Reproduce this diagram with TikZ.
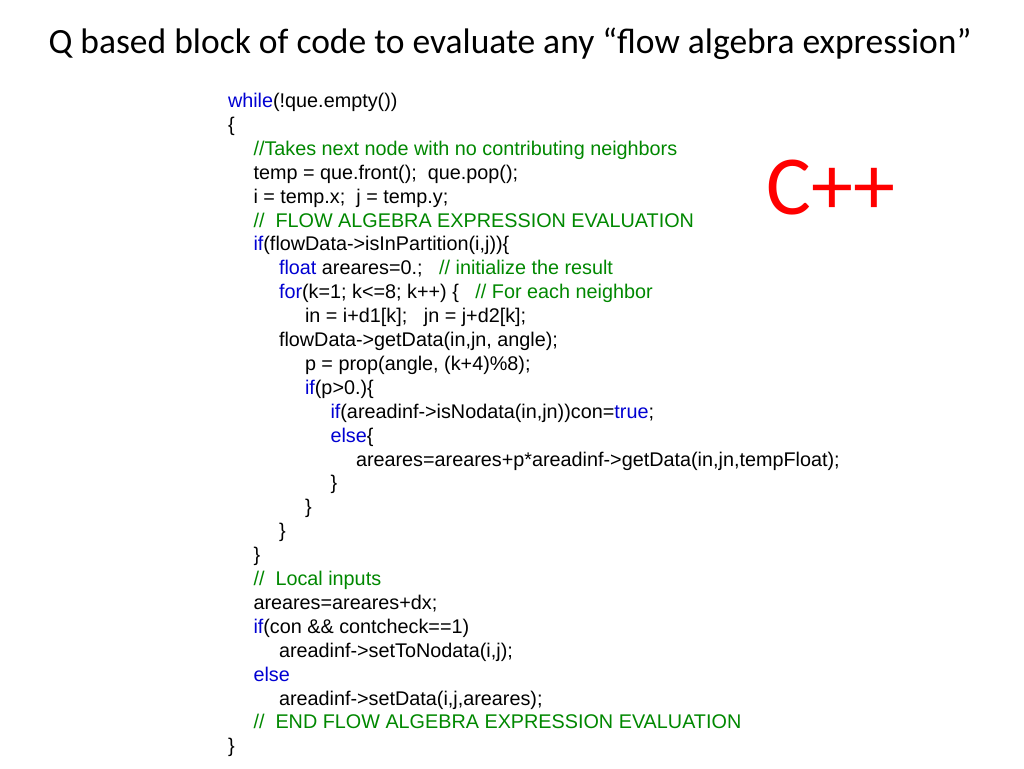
\documentclass[tikz,border=0pt]{standalone}
\usepackage{fontspec}
\setmainfont{Liberation Sans}
\newfontfamily\titlefont{Carlito}
\definecolor{kwblue}{RGB}{0,0,210}
\definecolor{cmgreen}{RGB}{0,136,0}
\definecolor{cppred}{RGB}{255,0,0}
\newcommand{\kw}[1]{\textcolor{kwblue}{#1}}
\newcommand{\cm}[1]{\textcolor{cmgreen}{#1}}
\begin{document}
\begin{tikzpicture}[x=1pt,y=1pt,
  code/.style={anchor=base west,inner sep=0pt,outer sep=0pt,font=\fontsize{19.8}{22}\selectfont,text=black},
  titlestyle/.style={anchor=base,inner sep=0pt,font=\titlefont\fontsize{35.5}{40}\selectfont,text=black},
  cpp/.style={anchor=base,inner sep=0pt,font=\titlefont\fontsize{84}{90}\selectfont,text=cppred}]
\useasboundingbox[fill=white] (0,0) rectangle (1024,-768);
\node[titlestyle] (title) at (510,-54) {Q based block of code to evaluate any “flow algebra expression”};
\node[cpp] (cpplabel) at (831,-214.5) {C++};
\def\la{228}\def\lb{253.5}\def\lc{279}\def\ld{305}\def\le{330.5}\def\lf{356}
\def\dy{23.9}\def\yo{107.5}
\node[code] (l0) at (\la,{-\yo-0*\dy}) {\kw{while}(!que.empty())};
\node[code] (l1) at (\la,{-\yo-1*\dy}) {\{};
\node[code] (l2) at (\lb,{-\yo-2*\dy}) {\cm{//Takes next node with no contributing neighbors}};
\node[code] (l3) at (\lb,{-\yo-3*\dy}) {temp = que.front();\ \ que.pop();};
\node[code] (l4) at (\lb,{-\yo-4*\dy}) {i = temp.x;\ \ j = temp.y;};
\node[code] (l5) at (\lb,{-\yo-5*\dy}) {\cm{//\ \ FLOW ALGEBRA EXPRESSION EVALUATION}};
\node[code] (l6) at (\lb,{-\yo-6*\dy}) {\kw{if}(flowData->isInPartition(i,j))\{};
\node[code] (l7) at (\lc,{-\yo-7*\dy}) {\kw{float} areares=0.;\ \ \ \cm{// initialize the result}};
\node[code] (l8) at (\lc,{-\yo-8*\dy}) {\kw{for}(k=1; k<=8; k++) \{\ \ \ \cm{// For each neighbor}};
\node[code] (l9) at (\ld,{-\yo-9*\dy}) {in = i+d1[k];\ \ \ jn = j+d2[k];};
\node[code] (l10) at (\lc,{-\yo-10*\dy}) {flowData->getData(in,jn, angle);};
\node[code] (l11) at (\ld,{-\yo-11*\dy}) {p = prop(angle, (k+4)\%8);};
\node[code] (l12) at (\ld,{-\yo-12*\dy}) {\kw{if}(p>0.)\{};
\node[code] (l13) at (\le,{-\yo-13*\dy}) {\kw{if}(areadinf->isNodata(in,jn))con=\kw{true};};
\node[code] (l14) at (\le,{-\yo-14*\dy}) {\kw{else}\{};
\node[code] (l15) at (\lf,{-\yo-15*\dy}) {areares=areares+p*areadinf->getData(in,jn,tempFloat);};
\node[code] (l16) at (\le,{-\yo-16*\dy}) {\}};
\node[code] (l17) at (\ld,{-\yo-17*\dy}) {\}};
\node[code] (l18) at (\lc,{-\yo-18*\dy}) {\}};
\node[code] (l19) at (\lb,{-\yo-19*\dy}) {\}};
\node[code] (l20) at (\lb,{-\yo-20*\dy}) {\cm{//\ \ Local inputs}};
\node[code] (l21) at (\lb,{-\yo-21*\dy}) {areares=areares+dx;};
\node[code] (l22) at (\lb,{-\yo-22*\dy}) {\kw{if}(con \&\& contcheck==1)};
\node[code] (l23) at (\lc,{-\yo-23*\dy}) {areadinf->setToNodata(i,j);};
\node[code] (l24) at (\lb,{-\yo-24*\dy}) {\kw{else}};
\node[code] (l25) at (\lc,{-\yo-25*\dy}) {areadinf->setData(i,j,areares);};
\node[code] (l26) at (\lb,{-\yo-26*\dy}) {\cm{//\ \ END FLOW ALGEBRA EXPRESSION EVALUATION}};
\node[code] (l27) at (\la,{-\yo-27*\dy}) {\}};
\end{tikzpicture}
\end{document}
